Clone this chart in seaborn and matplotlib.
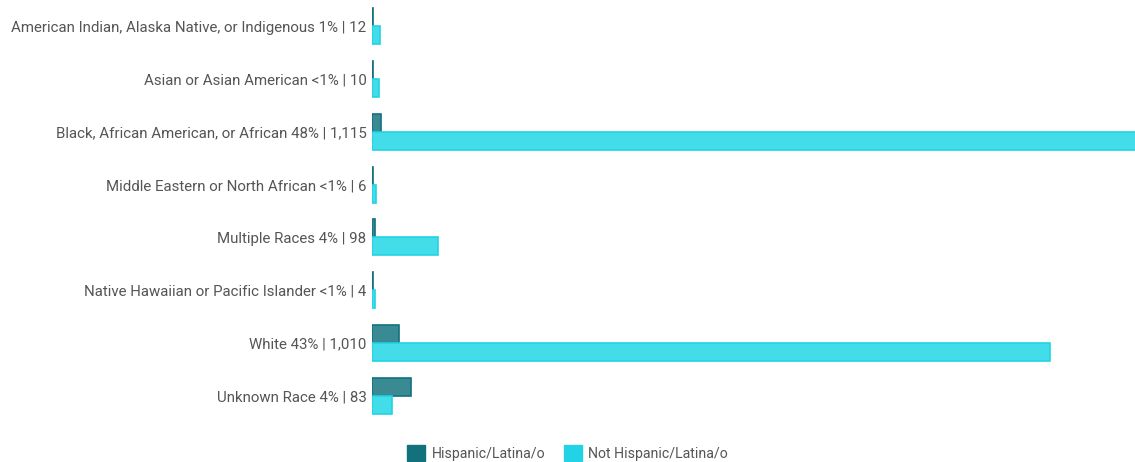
import matplotlib.pyplot as plt
import pandas as pd
import seaborn as sns

# Race categories and the shown share / head count
races = ['American Indian, Alaska Native, or Indigenous', 'Asian or Asian American',
         'Black, African American, or African', 'Middle Eastern or North African',
         'Multiple Races', 'Native Hawaiian or Pacific Islander', 'White', 'Unknown Race']
shares = ['1%', '<1%', '48%', '<1%', '4%', '<1%', '43%', '4%']
totals = [12, 10, 1115, 6, 98, 4, 1010, 83]

# Counts split by ethnicity
hispanic = [1, 1, 13, 1, 4, 1, 39, 56]
not_hispanic = [12, 10, 1102, 6, 94, 5, 971, 28]

groups = ['Hispanic/Latina/o', 'Not Hispanic/Latina/o']
edge_colors = ['#13717e', '#22d3e6']
fill_colors = ['#3a8a94', '#42dde9']

labels = [f'{r} {s} | {t:,}' for r, s, t in zip(races, shares, totals)]

df = pd.DataFrame({
    'label': labels * 2,
    'group': [groups[0]] * len(labels) + [groups[1]] * len(labels),
    'count': hispanic + not_hispanic,
})

sns.set_style('white')
plt.rcParams['font.family'] = ['Roboto', 'DejaVu Sans']

fig = plt.figure(figsize=(11.35, 4.62), dpi=100)
ax = fig.add_axes([372 / 1135, 40 / 462, 1 - 372 / 1135, 422 / 462])

sns.barplot(data=df, y='label', x='count', hue='group', orient='h',
            palette=fill_colors, saturation=1, width=0.68, errorbar=None,
            ax=ax, legend=False)

# Darker outline around each bar, like the original
for container, ec in zip(ax.containers, edge_colors):
    for bar in container:
        bar.set_edgecolor(ec)
        bar.set_linewidth(1.2)

ax.set_xlim(0, 1093)
ax.set_ylim(7.5, -0.5)
ax.set(xlabel='', ylabel='')
ax.set_xticks([])
ax.tick_params(axis='y', length=0, pad=4, labelsize=10.8, labelcolor='#555555')
for label in ax.get_yticklabels():
    label.set_va('center_baseline')
for spine in ax.spines.values():
    spine.set_visible(False)

handles = [plt.Rectangle((0, 0), 1, 1, color=c) for c in edge_colors]
fig.legend(handles, groups, loc='lower center', bbox_to_anchor=(0.5, -0.025), ncol=2,
           frameon=False, fontsize=10.2, handlelength=1.3, handleheight=1.3,
           columnspacing=1.3, handletextpad=0.45, labelcolor='#555555')

fig.savefig('out.png', dpi=100)
